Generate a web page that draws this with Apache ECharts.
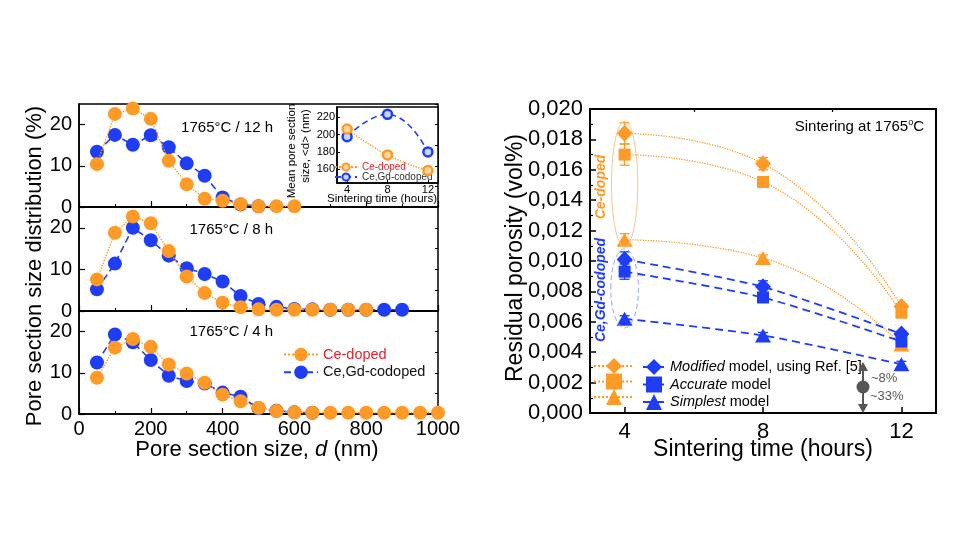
<!DOCTYPE html>
<html><head><meta charset="utf-8">
<script src="https://cdn.jsdelivr.net/npm/echarts@6/dist/echarts.min.js"></script>
<style>html,body{margin:0;padding:0;background:#fff}#c{width:968px;height:544px}</style>
</head><body><div id="c"></div>
<script>
const FONT = '"Liberation Sans", Arial, Helvetica, sans-serif';
const ORANGE = '#FF9A26', BLUE = '#1E3DF5', RED = '#E4232B', GRAY = '#555555';

// ---- Left: pore section size distributions (%)
const poreSizes = [50,100,150,200,250,300,350,400,450,500,550,600,650,700,750,800,850,900,950,1000];
const ce12h = [10.4,22.6,23.9,21.4,11.2,5.5,2.0,1.5,0.7,0.2,0.2,0.2];
const gd12h = [13.4,17.5,15.1,17.4,14.5,10.6,7.6,2.3,0.6,0.2];
const ce8h  = [7.6,18.8,22.7,21.1,14.4,8.3,4.3,2.0,0.9,0.4,0.3,0.3,0.3,0.3,0.3,0.3];
const gd8h  = [5.2,11.4,20.0,17.0,13.3,10.3,8.9,7.1,3.6,1.7,1.0,0.5,0.4,0.3,0.3,0.3,0.3,0.3];
const ce4h  = [8.8,16.1,18.2,16.3,12.0,9.8,7.6,4.7,3.1,1.5,0.7,0.4,0.3,0.3,0.3,0.3,0.3,0.3,0.3,0.3];
const gd4h  = [12.5,19.3,17.4,13.1,9.3,8.0,7.4,5.2,4.2,1.4,0.8,0.4,0.3];
const panelLabels = ['1765°C / 12 h', '1765°C / 8 h', '1765°C / 4 h'];

// ---- Inset: mean pore section size <d> (nm)
const insetTimes = [4, 8, 12];
const insetCe = [206.5, 176.5, 158.5];
const insetGd = [197.5, 223.5, 180];
const insetGdErr = [3, 4, 2];
const insetTicksX = [4, 8, 12];
const insetTicksY = [160, 180, 200, 220];

// ---- Right: residual porosity (vol%)
const sinterTimes = [4, 8, 12];
const sinterTicks = [4, 8, 12];
const sinterMinorTicks = [6, 10];
const ceModified = [0.0184, 0.0164, 0.0070];
const ceAccurate = [0.0170, 0.0152, 0.0066];
const ceSimplest = [0.0114, 0.0102, 0.0045];
const gdModified = [0.0101, 0.0083, 0.0052];
const gdAccurate = [0.0093, 0.0076, 0.0047];
const gdSimplest = [0.0062, 0.0051, 0.0032];
const ceModifiedErr = [0.0007, 0.0004, 0.0002];
const ceAccurateErr = [0.0007, 0.0003, 0.0002];
const ceSimplestErr = [0.0004, 0.0002, 0.0002];
const gdModifiedErr = [0.0005, 0.0004, 0.0002];
const gdAccurateErr = [0.0005, 0.0003, 0.0002];
const gdSimplestErr = [0.0002, 0.0002, 0.0002];

const zip = (xs, ys) => ys.map((v, i) => [xs[i], v]);

const chart = echarts.init(document.getElementById('c'));

const axisLine = { show: true, lineStyle: { color: '#000', width: 1.5 } };
const grids = [
  { left: 79, top: 104, width: 359, height: 103 },
  { left: 79, top: 207, width: 359, height: 104 },
  { left: 79, top: 311, width: 359, height: 103 },
  { left: 337, top: 107, width: 101, height: 76, backgroundColor: '#fff' },
  { left: 590, top: 109, width: 346, height: 304 }
].map(g => Object.assign({ show: true, borderColor: '#000', borderWidth: 1.5, backgroundColor: 'transparent' }, g));
grids[4].borderWidth = 2;

const xAxes = [];
const yAxes = [];
for (let i = 0; i < 3; i++) {
  xAxes.push({
    type: 'value', gridIndex: i, min: 0, max: 1000, interval: 200,
    axisLine, splitLine: { show: false },
    axisTick: { inside: true, length: 6, lineStyle: { color: '#000', width: 1.2 } },
    minorTick: { show: true, splitNumber: 2, length: 3, lineStyle: { color: '#000', width: 1 } },
    axisLabel: { show: i === 2, fontFamily: FONT, fontSize: 20, color: '#000', margin: 5, formatter: v => String(v) }
  });
}
// inset x
xAxes.push({
  type: 'value', gridIndex: 3, min: 3, max: 13,
  axisLine, splitLine: { show: false },
  axisTick: { inside: true, length: 3, customValues: insetTicksX, lineStyle: { color: '#000' } },
  axisLabel: { customValues: insetTicksX, fontFamily: FONT, fontSize: 11, color: '#000', margin: 1 }
});
// right x
xAxes.push({
  type: 'value', gridIndex: 4, min: 3, max: 13,
  axisLine: { show: true, lineStyle: { color: '#000', width: 2 } }, splitLine: { show: false },
  axisTick: { inside: true, length: 6, customValues: sinterTicks, lineStyle: { color: '#000', width: 1.5 } },
  axisLabel: { customValues: sinterTicks, fontFamily: FONT, fontSize: 22, color: '#000', margin: 8 }
});
// right x minor
xAxes.push({
  type: 'value', gridIndex: 4, min: 3, max: 13,
  axisLine: { show: false }, splitLine: { show: false },
  axisTick: { inside: true, length: 3, customValues: sinterMinorTicks, lineStyle: { color: '#000', width: 1.2 } },
  axisLabel: { show: false }
});

for (let i = 0; i < 3; i++) {
  yAxes.push({
    type: 'value', gridIndex: i, min: 0, max: 25, interval: 10,
    axisLine, splitLine: { show: false },
    axisTick: { inside: true, length: 6, lineStyle: { color: '#000', width: 1.2 } },
    axisLabel: { fontFamily: FONT, fontSize: 20, color: '#000', margin: 7, showMaxLabel: false }
  });
}
yAxes.push({
  type: 'value', gridIndex: 3, min: 144, max: 232,
  axisLine, splitLine: { show: false },
  axisTick: { inside: true, length: 3, customValues: insetTicksY, lineStyle: { color: '#000' } },
  axisLabel: { customValues: insetTicksY, fontFamily: FONT, fontSize: 11, color: '#000', margin: 2 }
});
yAxes.push({
  type: 'value', gridIndex: 4, min: 0, max: 0.02, interval: 0.002,
  axisLine: { show: true, lineStyle: { color: '#000', width: 2 } }, splitLine: { show: false },
  axisTick: { inside: true, length: 6, lineStyle: { color: '#000', width: 1.5 } },
  minorTick: { show: true, splitNumber: 2, length: 3, lineStyle: { color: '#000', width: 1.2 } },
  axisLabel: { fontFamily: FONT, fontSize: 22, color: '#000', margin: 7,
    formatter: v => v.toFixed(3).replace('.', ',') }
});
for (let i = 0; i < 3; i++) {
  yAxes.push({
    type: 'value', gridIndex: i, min: 0, max: 25, interval: 5,
    axisLine: { show: false }, splitLine: { show: false },
    axisTick: { inside: true, length: 3, lineStyle: { color: '#000', width: 1 } },
    axisLabel: { show: false }
  });
}

const series = [];
const distData = [[gd12h, ce12h], [gd8h, ce8h], [gd4h, ce4h]];
distData.forEach(([gd, ce], i) => {
  series.push({
    type: 'line', name: 'Ce,Gd-codoped', xAxisIndex: i, yAxisIndex: i,
    data: zip(poreSizes, gd), symbol: 'circle', symbolSize: 14,
    itemStyle: { color: BLUE }, lineStyle: { color: BLUE, width: 1.6, type: [7, 4] }, z: 3
  });
  series.push({
    type: 'line', name: 'Ce-doped', xAxisIndex: i, yAxisIndex: i,
    data: zip(poreSizes, ce), symbol: 'circle', symbolSize: 14,
    itemStyle: { color: ORANGE }, lineStyle: { color: ORANGE, width: 1.4, type: 'dotted' }, z: 4
  });
});

function errSeries(xi, yi, xs, vals, errs, color, cap, z) {
  return {
    type: 'custom', xAxisIndex: xi, yAxisIndex: yi, silent: true, z: z,
    data: xs.map((x, i) => [x, vals[i] - errs[i], vals[i] + errs[i]]),
    encode: { x: 0, y: [1, 2] },
    renderItem: (params, api) => {
      const lo = api.coord([api.value(0), api.value(1)]);
      const hi = api.coord([api.value(0), api.value(2)]);
      const st = { stroke: color, lineWidth: 1.3 };
      return { type: 'group', children: [
        { type: 'line', shape: { x1: lo[0], y1: lo[1], x2: hi[0], y2: hi[1] }, style: st },
        { type: 'line', shape: { x1: lo[0] - cap, y1: lo[1], x2: lo[0] + cap, y2: lo[1] }, style: st },
        { type: 'line', shape: { x1: hi[0] - cap, y1: hi[1], x2: hi[0] + cap, y2: hi[1] }, style: st }
      ] };
    }
  };
}

// inset
series.push(errSeries(3, 3, insetTimes, insetGd, insetGdErr, BLUE, 2, 9));
series.push({
  type: 'line', name: 'gdMean', xAxisIndex: 3, yAxisIndex: 3, smooth: true,
  data: zip(insetTimes, insetGd), symbol: 'circle', symbolSize: 9,
  itemStyle: { color: '#C9D3FF', borderColor: BLUE, borderWidth: 2.5 },
  lineStyle: { color: BLUE, width: 1.6, type: [6, 4] }, z: 10
});
series.push({
  type: 'line', name: 'ceMean', xAxisIndex: 3, yAxisIndex: 3, smooth: true,
  data: zip(insetTimes, insetCe), symbol: 'circle', symbolSize: 9,
  itemStyle: { color: '#FFD6A3', borderColor: ORANGE, borderWidth: 2.5 },
  lineStyle: { color: ORANGE, width: 1.4, type: 'dotted' }, z: 10
});

// right
const rightDefs = [
  ['ceModified', ceModified, ceModifiedErr, ORANGE, 'diamond', [16, 17]],
  ['ceAccurate', ceAccurate, ceAccurateErr, ORANGE, 'rect', [12, 12]],
  ['ceSimplest', ceSimplest, ceSimplestErr, ORANGE, 'triangle', [16, 14]],
  ['gdModified', gdModified, gdModifiedErr, BLUE, 'diamond', [16, 17]],
  ['gdAccurate', gdAccurate, gdAccurateErr, BLUE, 'rect', [12, 12]],
  ['gdSimplest', gdSimplest, gdSimplestErr, BLUE, 'triangle', [16, 14]]
];
rightDefs.forEach(([name, vals, errs, color, sym, size], k) => {
  const isCe = color === ORANGE;
  series.push(errSeries(4, 4, sinterTimes, vals, errs, color, 5, 5 + k));
  series.push({
    type: 'line', name, xAxisIndex: 4, yAxisIndex: 4, smooth: isCe ? 0.5 : 0.25,
    data: zip(sinterTimes, vals), symbol: sym, symbolSize: size,
    itemStyle: { color },
    lineStyle: isCe ? { color, width: 1.3, type: 'dotted' } : { color, width: 1.8, type: [8, 5] },
    z: 5 + k
  });
});

const rich = { i: { fontStyle: 'italic', fontFamily: FONT, fontSize: 14.5, color: '#000' } };
const rightLabels = {
  gdModified: '{i|Modified} model, using Ref. [5]',
  gdAccurate: '{i|Accurate} model',
  gdSimplest: '{i|Simplest} model'
};

const legends = [
  { left: 283, top: 347, orient: 'vertical', itemWidth: 34, itemHeight: 17, itemGap: 2.7, padding: 0,
    selectedMode: false,
    textStyle: { fontFamily: FONT, fontSize: 14.5, color: '#000' },
    data: [{ name: 'Ce-doped', textStyle: { color: RED } }, { name: 'Ce,Gd-codoped', textStyle: { color: '#111' } }] },
  { left: 334, top: 162, orient: 'vertical', itemWidth: 22, itemHeight: 9, itemGap: 0, padding: 0,
    selectedMode: false,
    textStyle: { fontFamily: FONT, fontSize: 10 },
    formatter: n => n === 'ceMean' ? 'Ce-doped' : 'Ce,Gd-codoped',
    data: [{ name: 'ceMean', textStyle: { color: RED } }, { name: 'gdMean', textStyle: { color: '#333' } }] },
  { left: 593, top: 356, orient: 'vertical', itemWidth: 40, itemHeight: 20, itemGap: -2.5, padding: 0,
    selectedMode: false, formatter: () => '',
    data: ['ceModified', 'ceAccurate', 'ceSimplest'] },
  { left: 642, top: 359, orient: 'vertical', itemWidth: 22, itemHeight: 20, itemGap: 1.5, padding: 0,
    selectedMode: false,
    textStyle: { fontFamily: FONT, fontSize: 14.5, color: '#000', rich },
    formatter: n => rightLabels[n],
    data: ['gdModified', 'gdAccurate', 'gdSimplest'] }
];

chart.setOption({
  animation: false,
  backgroundColor: '#fff',
  grid: grids, xAxis: xAxes, yAxis: yAxes, series, legend: legends
});

// ---- annotations (positions from the axes' own scales)
const toPx = (x, y) => chart.convertToPixel({ xAxisIndex: 4, yAxisIndex: 4 }, [x, y]);
const ceEllipse = { x: 4, dx: 0.38, y0: 0.0109, y1: 0.0192 };
const gdEllipse = { x: 4, dx: 0.4, y0: 0.0056, y1: 0.0108 };
function ellipse(e, stroke, dash) {
  const c = toPx(e.x, (e.y0 + e.y1) / 2);
  const a = toPx(e.x + e.dx, e.y1);
  return { type: 'ellipse', z: 20, silent: true,
    shape: { cx: c[0], cy: c[1], rx: a[0] - c[0], ry: c[1] - a[1] },
    style: { fill: 'none', stroke, lineWidth: 1, lineDash: dash } };
}
const txt = (text, x, y, font, fill, extra) => Object.assign({
  type: 'text', z: 30, silent: true, x, y,
  style: Object.assign({ text, font, fill, align: 'center', verticalAlign: 'middle' }, extra && extra.style)
}, extra && extra.el);

const graphic = [
  ellipse(ceEllipse, '#F9C58C', null),
  ellipse(gdEllipse, '#9AA8F2', [5, 3]),
  // left titles
  txt('Pore section size distribution (%)', 35, 266, `22px ${FONT}`, '#000', { el: { rotation: Math.PI / 2 } }),
  { type: 'text', z: 30, silent: true, x: 257, y: 450, style: {
      text: '{a|Pore section size, }{b|d}{a| (nm)}', align: 'center', verticalAlign: 'middle',
      rich: { a: { fontFamily: FONT, fontSize: 22, fill: '#000' }, b: { fontFamily: FONT, fontSize: 22, fontStyle: 'italic', fill: '#000' } } } },
  txt(panelLabels[0], 273, 128, `15px ${FONT}`, '#000', { style: { align: 'right' } }),
  txt(panelLabels[1], 273, 230, `15px ${FONT}`, '#000', { style: { align: 'right' } }),
  txt(panelLabels[2], 273, 332, `15px ${FONT}`, '#000', { style: { align: 'right' } }),
  // inset titles
  txt('Mean pore section', 292, 151, `11.5px ${FONT}`, '#000', { el: { rotation: Math.PI / 2 } }),
  txt('size, <d> (nm)', 306, 146, `11.5px ${FONT}`, '#000', { el: { rotation: Math.PI / 2 } }),
  txt('Sintering time (hours)', 382, 199, `11.5px ${FONT}`, '#000'),
  // right titles
  txt('Residual porosity (vol%)', 516, 258, `23px ${FONT}`, '#000', { el: { rotation: Math.PI / 2 } }),
  txt('Sintering time (hours)', 763, 450, `23px ${FONT}`, '#000'),
  { type: 'text', z: 30, silent: true, x: 924, y: 127, style: {
      text: '{a|Sintering at 1765}{s|o}{a|C}', align: 'right', verticalAlign: 'middle',
      rich: { a: { fontFamily: FONT, fontSize: 15, fill: '#000' }, s: { fontFamily: FONT, fontSize: 9, fill: '#000', padding: [0, 0, 8, 0] } } } },
  txt('Ce-doped', 601, 187, `bold italic 14px ${FONT}`, ORANGE, { el: { rotation: Math.PI / 2 } }),
  txt('Ce,Gd-codoped', 601, 290, `bold italic 14px ${FONT}`, BLUE, { el: { rotation: Math.PI / 2 } }),
  // gray change indicator
  { type: 'line', z: 30, silent: true, shape: { x1: 863, y1: 368, x2: 863, y2: 408 }, style: { stroke: GRAY, lineWidth: 2 } },
  { type: 'polygon', z: 30, silent: true, shape: { points: [[858, 371], [863, 362], [868, 371]] }, style: { fill: GRAY } },
  { type: 'polygon', z: 30, silent: true, shape: { points: [[858, 404], [863, 413], [868, 404]] }, style: { fill: GRAY } },
  { type: 'circle', z: 31, silent: true, shape: { cx: 863, cy: 387, r: 6.5 }, style: { fill: GRAY } },
  txt('~8%', 871, 378, `13px ${FONT}`, GRAY, { style: { align: 'left' } }),
  txt('~33%', 870, 396, `13px ${FONT}`, GRAY, { style: { align: 'left' } })
];
chart.setOption({ graphic });
</script>
</body></html>
